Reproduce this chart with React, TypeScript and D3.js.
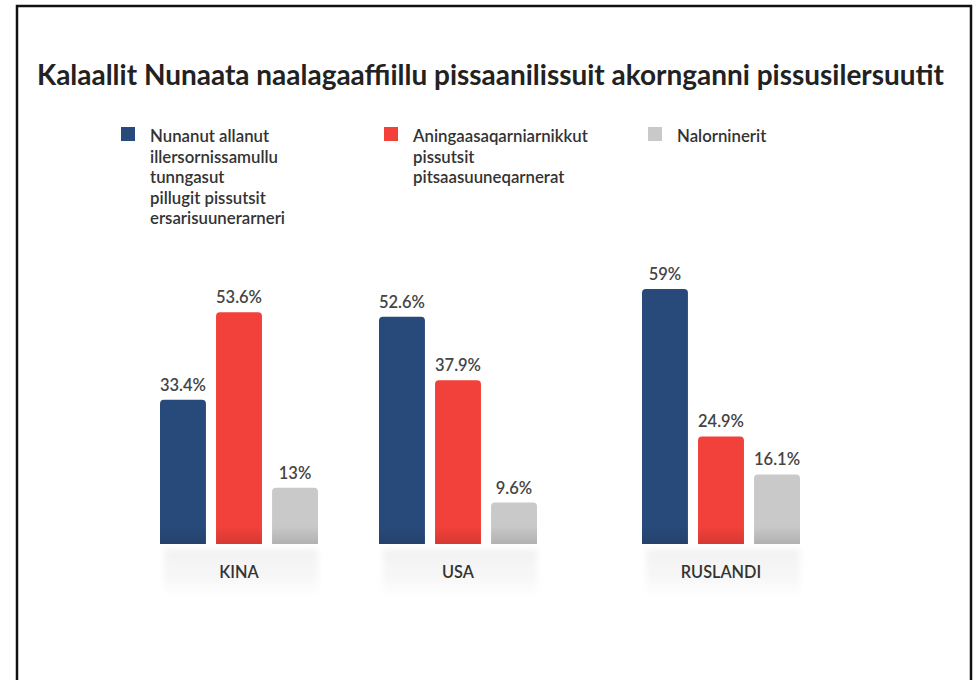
import React from "react";
import * as d3 from "d3";

const categories = ["KINA", "USA", "RUSLANDI"];
const seriesNames = [
  "Nunanut allanut illersornissamullu tunngasut pillugit pissutsit ersarisuunerarneri",
  "Aningaasaqarniarnikkut pissutsit pitsaasuuneqarnerat",
  "Nalorninerit",
];
const legendLines = [
  ["Nunanut allanut", "illersornissamullu", "tunngasut", "pillugit pissutsit", "ersarisuunerarneri"],
  ["Aningaasaqarniarnikkut", "pissutsit", "pitsaasuuneqarnerat"],
  ["Nalorninerit"],
];
const seriesA = [33.4, 52.6, 59];
const seriesB = [53.6, 37.9, 24.9];
const seriesC = [13, 9.6, 16.1];
const valueLabels = [
  ["33.4%", "52.6%", "59%"],
  ["53.6%", "37.9%", "24.9%"],
  ["13%", "9.6%", "16.1%"],
];
const title = "Kalaallit Nunaata naalagaaffiillu pissaanilissuit akornganni pissusilersuutit";

const colors = ["#284a7a", "#f2413a", "#c9c9c9"];
const W = 979;
const H = 680;
const FONT = "Lato, 'Open Sans', sans-serif";

export default function App() {
  const series = [seriesA, seriesB, seriesC];
  const baseline = 544;
  const y = d3.scaleLinear().domain([0, 59]).range([baseline, 289]);
  const groupX = d3.scaleOrdinal<string, number>().domain(categories).range([160, 379, 642]);
  const groupWidth = 158;
  const inner = d3.scaleBand<number>().domain([0, 1, 2]).range([0, groupWidth]).paddingInner(0.18).paddingOuter(0);
  const bw = inner.bandwidth();
  const r = 4;
  const barPath = (x0: number, yTop: number) => {
    const x1 = x0 + bw;
    return `M${x0},${baseline}V${yTop + r}Q${x0},${yTop} ${x0 + r},${yTop}H${x1 - r}Q${x1},${yTop} ${x1},${yTop + r}V${baseline}Z`;
  };
  const legendX = [121, 384, 648];

  return (
    <svg width={W} height={H} style={{ position: "absolute", left: 0, top: 0, background: "#fff" }} fontFamily={FONT}>
      <defs>
        <linearGradient id="shade" x1="0" y1="0" x2="0" y2="1">
          <stop offset="0" stopColor="#000" stopOpacity="0" />
          <stop offset="1" stopColor="#000" stopOpacity="0.12" />
        </linearGradient>
        <linearGradient id="labelbox" x1="0" y1="0" x2="0" y2="1">
          <stop offset="0" stopColor="#f2f2f2" />
          <stop offset="0.6" stopColor="#f7f7f7" />
          <stop offset="1" stopColor="#ffffff" />
        </linearGradient>
        <filter id="soft" x="-10%" y="-20%" width="120%" height="140%">
          <feGaussianBlur stdDeviation="3" />
        </filter>
      </defs>
      <rect x={17} y={6} width={954} height={H} fill="#fff" stroke="#111" strokeWidth={2.5} />
      <text x={37} y={85} fontSize={28} fontWeight={700} fill="#222" textLength={907} lengthAdjust="spacingAndGlyphs">{title}</text>
      {legendLines.map((lines, i) => (
        <g key={seriesNames[i]}>
          <rect x={legendX[i]} y={127} width={14} height={14} fill={colors[i]} />
          {lines.map((ln, j) => (
            <text key={j} x={legendX[i] + 29} y={142 + j * 20.5} fontSize={16.8} fontWeight={600} fill="#333">{ln}</text>
          ))}
        </g>
      ))}
      {categories.map((c, ci) => {
        const gx = groupX(c);
        return (
          <g key={c}>
            <rect x={gx + 4} y={549} width={groupWidth - 4} height={48} fill="url(#labelbox)" filter="url(#soft)" />
            <text x={gx + groupWidth / 2} y={578} textAnchor="middle" fontSize={16.3} fontWeight={600} fill="#333">{c}</text>
            {series.map((s, si) => {
              const x0 = gx + (inner(si) as number);
              const yt = y(s[ci]);
              return (
                <g key={si}>
                  <path d={barPath(x0, yt)} fill={colors[si]} />
                  <rect x={x0} y={baseline - 18} width={bw} height={18} fill="url(#shade)" />
                  <text x={x0 + bw / 2} y={yt - 9} textAnchor="middle" fontSize={16.5} fontWeight={600} fill="#444">{valueLabels[si][ci]}</text>
                </g>
              );
            })}
          </g>
        );
      })}
    </svg>
  );
}
